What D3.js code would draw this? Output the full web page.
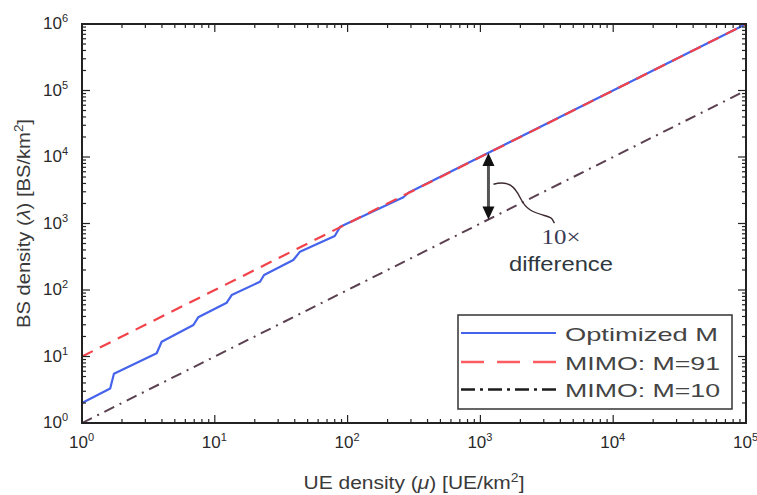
<!DOCTYPE html>
<html>
<head>
<meta charset="utf-8">
<script src="https://cdn.jsdelivr.net/npm/d3@7"></script>
<style>
    body { margin: 0; background: #fff; }
    svg text { font-family: "Liberation Sans", Arial, sans-serif; }
</style>
</head>
<body>
<svg id="chart-area"></svg>
<script>
// UE density (x) and BS density (y)
const ueOptimized = [1, 1.63, 1.74, 3.65, 3.98, 6.9, 7.5, 12.3, 13.4, 21.9, 23.5, 39, 43.8, 80, 88, 263, 287, 1e5];
const bsOptimized = [2.0, 3.3, 5.5, 11.2, 16.7, 29.8, 38.8, 64.4, 84, 133, 168, 282, 377, 650, 895, 2480, 2900, 1e6];
const ueRange = [1, 1e5];
const bsMimo91 = [10, 1e6];
const bsMimo10 = [1, 1e5];
const seriesNames = ["Optimized M", "MIMO: M=91", "MIMO: M=10"];
const xDecades = [0, 1, 2, 3, 4, 5];
const yDecades = [0, 1, 2, 3, 4, 5, 6];
const arrowUe = 1150;

const width = 757;
const height = 495;
const plot = { left: 82, right: 746, top: 24, bottom: 423 };

const svg = d3.select("#chart-area")
    .attr("width", width)
    .attr("height", height)
    .attr("viewBox", `0 0 ${width} ${height}`);

svg.append("rect").attr("width", width).attr("height", height).attr("fill", "#fff");

const x = d3.scaleLog().domain([1, 1e5]).range([plot.left, plot.right]);
const y = d3.scaleLog().domain([1, 1e6]).range([plot.bottom, plot.top]);

svg.append("clipPath").attr("id", "plot-clip")
    .append("rect")
    .attr("x", plot.left).attr("y", plot.top)
    .attr("width", plot.right - plot.left).attr("height", plot.bottom - plot.top);

const line = d3.line().x((d) => x(d[0])).y((d) => y(d[1]));
const lines = svg.append("g").attr("clip-path", "url(#plot-clip)");

// blue optimized curve first, red dashed drawn over it
lines.append("path")
    .datum(ueOptimized.map((u, i) => [u, bsOptimized[i]]))
    .attr("d", line)
    .attr("fill", "none")
    .attr("stroke", "#4663ec")
    .attr("stroke-width", 2.2)
    .attr("stroke-linejoin", "round");

lines.append("path")
    .datum(ueRange.map((u, i) => [u, bsMimo91[i]]))
    .attr("d", line)
    .attr("fill", "none")
    .attr("stroke", "#f2434a")
    .attr("stroke-width", 2.2)
    .attr("stroke-dasharray", "12,8");

lines.append("path")
    .datum(ueRange.map((u, i) => [u, bsMimo10[i]]))
    .attr("d", line)
    .attr("fill", "none")
    .attr("stroke", "#5a4050")
    .attr("stroke-width", 2)
    .attr("stroke-dasharray", "11,6,2,6");

// ticks on all four sides, pointing inwards
const ticks = svg.append("g").attr("stroke", "#222").attr("stroke-width", 1.2);
const isMajor = (v) => Math.abs(Math.log10(v) - Math.round(Math.log10(v))) < 1e-9;

x.ticks().forEach((v) => {
    const len = isMajor(v) ? 8 : 4;
    ticks.append("line").attr("x1", x(v)).attr("x2", x(v)).attr("y1", plot.bottom).attr("y2", plot.bottom - len);
    ticks.append("line").attr("x1", x(v)).attr("x2", x(v)).attr("y1", plot.top).attr("y2", plot.top + len);
});
y.ticks().forEach((v) => {
    const len = isMajor(v) ? 8 : 4;
    ticks.append("line").attr("y1", y(v)).attr("y2", y(v)).attr("x1", plot.left).attr("x2", plot.left + len);
    ticks.append("line").attr("y1", y(v)).attr("y2", y(v)).attr("x1", plot.right).attr("x2", plot.right - len);
});

svg.append("rect")
    .attr("x", plot.left).attr("y", plot.top)
    .attr("width", plot.right - plot.left).attr("height", plot.bottom - plot.top)
    .attr("fill", "none")
    .attr("stroke", "#222")
    .attr("stroke-width", 2);

// tick labels 10^n
function powerLabel(g, n) {
    g.append("tspan").text("10");
    g.append("tspan").attr("font-size", 11).attr("dy", -7).text(n);
}

xDecades.forEach((n) => {
    const t = svg.append("text")
        .attr("x", x(Math.pow(10, n)) - 13)
        .attr("y", 448)
        .attr("font-size", 17)
        .attr("fill", "#2a2a2a");
    powerLabel(t, n);
});

yDecades.forEach((n) => {
    const t = svg.append("text")
        .attr("x", 68)
        .attr("y", y(Math.pow(10, n)) + 5)
        .attr("text-anchor", "end")
        .attr("font-size", 17)
        .attr("fill", "#2a2a2a");
    powerLabel(t, n);
});

// axis titles
const xTitle = svg.append("text")
    .attr("x", (plot.left + plot.right) / 2)
    .attr("y", 489)
    .attr("text-anchor", "middle")
    .attr("font-size", 18)
    .attr("fill", "#3a3a3a")
    .attr("textLength", 221)
    .attr("lengthAdjust", "spacingAndGlyphs");
xTitle.append("tspan").text("UE density (");
xTitle.append("tspan").attr("font-style", "italic").text("μ");
xTitle.append("tspan").text(") [UE/km");
xTitle.append("tspan").attr("font-size", 12).attr("dy", -7).text("2");
xTitle.append("tspan").attr("dy", 7).text("]");

const yTitle = svg.append("text")
    .attr("transform", `translate(30,${(plot.top + plot.bottom) / 2}) rotate(-90)`)
    .attr("text-anchor", "middle")
    .attr("font-size", 18)
    .attr("fill", "#3a3a3a")
    .attr("textLength", 209)
    .attr("lengthAdjust", "spacingAndGlyphs");
yTitle.append("tspan").text("BS density (");
yTitle.append("tspan").attr("font-style", "italic").text("λ");
yTitle.append("tspan").text(") [BS/km");
yTitle.append("tspan").attr("font-size", 12).attr("dy", -7).text("2");
yTitle.append("tspan").attr("dy", 7).text("]");

// 10x difference annotation
const ax = x(arrowUe);
const aTop = y(arrowUe * 10);
const aBot = y(arrowUe);
const aMid = (aTop + aBot) / 2;

svg.append("line")
    .attr("x1", ax).attr("x2", ax)
    .attr("y1", aTop + 10).attr("y2", aBot - 10)
    .attr("stroke", "#555").attr("stroke-width", 3);
svg.append("path")
    .attr("d", `M${ax},${aTop} L${ax - 6},${aTop + 13} L${ax + 6},${aTop + 13} Z`)
    .attr("fill", "#111");
svg.append("path")
    .attr("d", `M${ax},${aBot} L${ax - 6},${aBot - 13} L${ax + 6},${aBot - 13} Z`)
    .attr("fill", "#111");

svg.append("path")
    .attr("d", `M${ax + 5},${aMid - 2} C${ax + 20},${aMid - 6} ${ax + 26},${aMid} ${ax + 32},${aMid + 12}` +
        ` S${ax + 45},${aMid + 26} ${ax + 55},${aMid + 29} S${ax + 63},${aMid + 32} ${ax + 66},${aMid + 37}`)
    .attr("fill", "none")
    .attr("stroke", "#3b2a30")
    .attr("stroke-width", 1.4);

svg.append("text")
    .attr("x", 561).attr("y", 244)
    .attr("text-anchor", "middle")
    .attr("font-size", 22)
    .attr("fill", "#3b3b55")
    .attr("textLength", 39)
    .attr("lengthAdjust", "spacingAndGlyphs")
    .style("font-family", "'Liberation Serif', 'Times New Roman', serif")
    .text("10×");

svg.append("text")
    .attr("x", 561).attr("y", 271)
    .attr("text-anchor", "middle")
    .attr("font-size", 21)
    .attr("fill", "#2f3740")
    .attr("textLength", 104)
    .attr("lengthAdjust", "spacingAndGlyphs")
    .text("difference");

// legend
const legend = svg.append("g");
legend.append("rect")
    .attr("x", 458).attr("y", 315)
    .attr("width", 274).attr("height", 94)
    .attr("fill", "#fff")
    .attr("stroke", "#333")
    .attr("stroke-width", 1.5);

const legendStyles = [
    { color: "#4663ec", dash: null, width: 2 },
    { color: "#ff5c62", dash: "23,13", width: 2.6 },
    { color: "#1c1c1c", dash: "14,5,3,5", width: 2.4 },
];
const legendRows = [333, 362, 389.5];

seriesNames.forEach((name, i) => {
    legend.append("line")
        .attr("x1", 461).attr("x2", 556)
        .attr("y1", legendRows[i]).attr("y2", legendRows[i])
        .attr("stroke", legendStyles[i].color)
        .attr("stroke-width", legendStyles[i].width)
        .attr("stroke-dasharray", legendStyles[i].dash);
    legend.append("text")
        .attr("x", 565)
        .attr("y", legendRows[i] + 7.5)
        .attr("font-size", 19)
        .attr("fill", "#444")
        .attr("textLength", i === 0 ? 153 : 155)
        .attr("lengthAdjust", "spacingAndGlyphs")
        .text(name);
});
</script>
</body>
</html>
